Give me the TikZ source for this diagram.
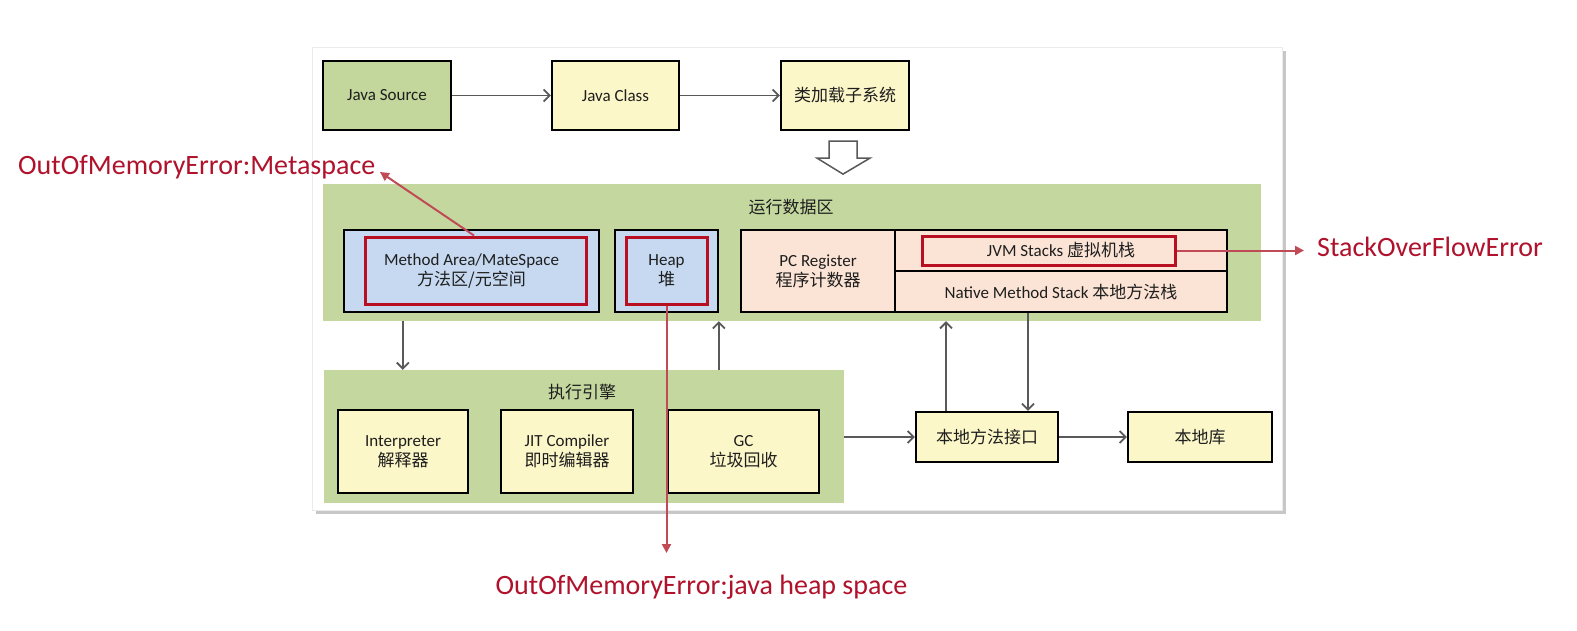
\documentclass[tikz,border=0pt]{standalone}
\usepackage{fontspec}
\setmainfont{Carlito}
\newfontfamily\cjk{Noto Sans CJK SC}
\usetikzlibrary{arrows.meta}
\definecolor{grn}{HTML}{C4D79F}
\definecolor{srcgrn}{HTML}{C3D69B}
\definecolor{ylw}{HTML}{FCF7C8}
\definecolor{blu}{HTML}{C6D9F0}
\definecolor{slm}{HTML}{FBE4D5}
\definecolor{redbox}{HTML}{B80F22}
\definecolor{errtxt}{HTML}{B0122C}
\definecolor{errarr}{HTML}{C04A55}
\definecolor{arrgray}{HTML}{595959}
\definecolor{txt}{HTML}{1E1E1E}
\newcommand\bxfont{\fontsize{17}{20}\selectfont}
\newcommand\errfont{\fontsize{28}{30}\selectfont}
\newcommand\zh[1]{{\cjk #1}}
\begin{document}
\begin{tikzpicture}[x=1pt,y=-1pt,
  box/.style={draw=black, line width=2.2pt, align=center, inner sep=0pt, font=\bxfont, text=txt},
  area/.style={fill=grn, draw=none, inner sep=0pt},
  redin/.style={draw=redbox, line width=3pt, inner sep=0pt},
  arr/.style={draw=arrgray, line width=1.8pt, -{Straight Barb[length=6pt,width=12pt]}},
  errarrow/.style={draw=errarr, line width=2pt, -{Triangle[length=9pt,width=9pt]}},
  errlabel/.style={text=errtxt, font=\errfont, inner sep=0pt},
  lbl/.style={font=\bxfont, text=txt, inner sep=0pt}
]
\useasboundingbox (0,0) rectangle (1577,630);
\fill[white] (0,0) rectangle (1577,630);
% panel with shadow
\fill[black!22] (316,51) rectangle (1286,514);
\filldraw[fill=white, draw=black!8, line width=0.8pt] (312,47) rectangle (1282,510);

% top row
\node[box, fill=srcgrn, minimum width=128pt, minimum height=69pt] (src) at (387,95.5) {Java Source};
\node[box, fill=ylw, minimum width=127pt, minimum height=69pt] (cls) at (615.5,95.5) {Java Class};
\node[box, fill=ylw, minimum width=128pt, minimum height=69pt] (loader) at (845,95.5) {\zh{类加载子系统}};
\draw[arr] (src) -- (cls);
\draw[arr] (cls) -- (loader);
% hollow arrow
\begin{scope}[shift={(loader.south)}]
\filldraw[fill=white, draw=arrgray, line width=1.5pt, line join=miter]
  (-16,10) -- (12,10) -- (12,27) -- (25,27) -- (-2,43) -- (-28,27) -- (-16,27) -- cycle;
\end{scope}

% runtime data area
\node[area, minimum width=938pt, minimum height=137pt] (rda) at (792,252.5) {};
\node[lbl] (rdalbl) at (791,207) {\zh{运行数据区}};
\node[box, fill=blu, minimum width=255pt, minimum height=82pt] (meth) at (471.5,271) {Method Area/MateSpace\\\zh{方法区/元空间}};
\node[redin, minimum width=221pt, minimum height=67pt] (methred) at (475.5,270.5) {};
\node[box, fill=blu, minimum width=103pt, minimum height=82pt] (heap) at (666.5,271) {Heap\\\zh{堆}};
\node[redin, minimum width=81pt, minimum height=67pt] (heapred) at (666.5,270.5) {};
\node[box, fill=slm, minimum width=154pt, minimum height=82pt] (pc) at (818,271) {PC Register\\\zh{程序计数器}};
\node[box, fill=slm, minimum width=332pt, minimum height=41pt] (jvms) at (1061,250.5) {JVM Stacks \zh{虚拟机栈}};
\node[box, fill=slm, minimum width=332pt, minimum height=41pt] (nms) at (1061,291.5) {Native Method Stack \zh{本地方法栈}};
\node[redin, minimum width=253pt, minimum height=29pt] (jvmred) at (1048.5,250.5) {};

% execution engine
\node[area, minimum width=520pt, minimum height=133pt] (exec) at (584,436.5) {};
\node[lbl] (execlbl) at (582,392) {\zh{执行引擎}};
\node[box, fill=ylw, minimum width=130pt, minimum height=83pt] (interp) at (403,451.5) {Interpreter\\\zh{解释器}};
\node[box, fill=ylw, minimum width=132pt, minimum height=83pt] (jit) at (567,451.5) {JIT Compiler\\\zh{即时编辑器}};
\node[box, fill=ylw, minimum width=151pt, minimum height=83pt] (gc) at (743.5,451.5) {GC\\\zh{垃圾回收}};

% native
\node[box, fill=ylw, minimum width=142pt, minimum height=50pt] (jni) at (987,437) {\zh{本地方法接口}};
\node[box, fill=ylw, minimum width=144pt, minimum height=50pt] (lib) at (1200,437) {\zh{本地库}};

% gray connectors
\draw[arr] ([xshift=80pt]rda.south west) -- ([xshift=79pt]exec.north west);
\draw[arr] ([xshift=395pt]exec.north west) -- ([xshift=396pt]rda.south west);
\draw[arr] (exec.east |- jni.west) -- (jni.west);
\draw[arr] (jni) -- (lib);
\coordinate (up1) at ([xshift=-41pt]jni.north);
\coordinate (dn1) at ([xshift=41pt]jni.north);
\draw[arr] (up1) -- (up1 |- rda.south);
\draw[arr] (dn1 |- nms.south) -- (dn1);

% error labels
\node[errlabel, anchor=base west] (meta) at (18,174) {OutOfMemoryError:Metaspace};
\node[errlabel, anchor=base] (heaperr) at (701.5,594) {OutOfMemoryError:java heap space};
\node[errlabel, anchor=base west] (soe) at (1317,256) {StackOverFlowError};
\coordinate (metatip) at (380,172);
\coordinate (heaptip) at (666.5,553);
\coordinate (sotip) at (1304,250.5);
\draw[errarrow] ([xshift=-1.5pt]methred.north) -- (metatip);
\draw[errarrow] (heapred.south) -- (heaptip);
\draw[errarrow] (jvmred.east) -- (sotip);
\end{tikzpicture}
\end{document}
